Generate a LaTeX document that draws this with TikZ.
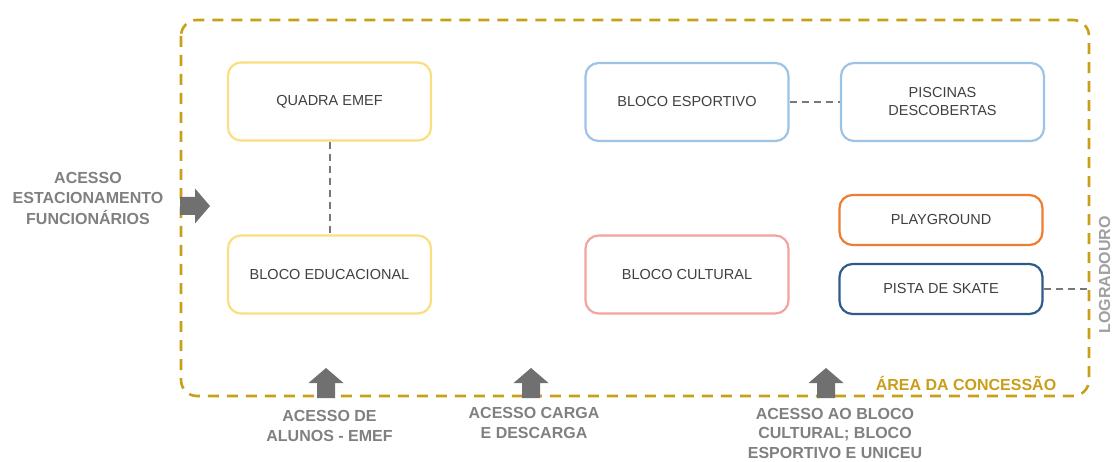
\documentclass[tikz,border=0pt]{standalone}
\usepackage{fontspec}
\setmainfont{Liberation Sans}
\definecolor{gold}{RGB}{201,158,24}
\definecolor{txtgray}{RGB}{64,64,64}
\definecolor{lblgray}{RGB}{128,128,128}
\definecolor{lightgray2}{RGB}{160,160,160}
\definecolor{arrowgray}{RGB}{112,112,112}
\definecolor{linegray}{RGB}{120,120,120}
\definecolor{yellowb}{RGB}{250,222,128}
\definecolor{blueb}{RGB}{157,195,230}
\definecolor{pinkb}{RGB}{244,164,156}
\definecolor{orangeb}{RGB}{237,125,49}
\definecolor{navyb}{RGB}{46,92,138}
\tikzset{
  box/.style={draw, line width=2.2pt, rounded corners=13pt, fill=white,
    minimum width=203pt, minimum height=78pt, inner sep=2pt, align=center,
    text=txtgray, font=\fontsize{14.5}{18}\selectfont},
  smallbox/.style={box, minimum height=50pt},
  border/.style={draw=gold, line width=2.6pt, dash pattern=on 11pt off 8pt, rounded corners=16pt},
  link/.style={draw=linegray, line width=2pt, dash pattern=on 7pt off 5pt},
  lbl/.style={text=lblgray, font=\bfseries\fontsize{16}{20.5}\selectfont, align=center, inner sep=0pt},
  uparrow/.pic={\fill[arrowgray] (-9,0) -- (-9,-15) -- (-17.5,-15) -- (0,-30) -- (17.5,-15) -- (9,-15) -- (9,0) -- cycle;},
  rightarrow/.pic={\fill[arrowgray] (0,-9) -- (15,-9) -- (15,-17.5) -- (30,0) -- (15,17.5) -- (15,9) -- (0,9) -- cycle;}
}
\begin{document}
\begin{tikzpicture}[x=1pt,y=-1pt]
\useasboundingbox (0,0) rectangle (1113,462);
% concession area
\draw[border] (181,20) rectangle (1089,396);
\node[text=gold, font=\bfseries\fontsize{16}{20}\selectfont, anchor=center] (area) at (966,383) {ÁREA DA CONCESSÃO};
% boxes
\node[box, draw=yellowb] (quadra) at (329.5,101.5) {QUADRA EMEF};
\node[box, draw=yellowb] (educ) at (329.5,274.5) {BLOCO EDUCACIONAL};
\node[box, draw=blueb] (esport) at (687,102) {BLOCO ESPORTIVO};
\node[box, draw=blueb] (piscinas) at (942.5,102) {PISCINAS\\DESCOBERTAS};
\node[box, draw=pinkb] (cultural) at (687,274.5) {BLOCO CULTURAL};
\node[smallbox, draw=orangeb] (play) at (941,220) {PLAYGROUND};
\node[smallbox, draw=navyb] (skate) at (941,289) {PISTA DE SKATE};
\coordinate (logr) at (1089,289);
% connectors
\draw[link] (quadra) -- (educ);
\draw[link] (esport) -- (piscinas);
\draw[link] (skate) -- (logr);
% labels
\node[lbl, rotate=90, text=lightgray2] (logradouro) at (1104.5,275) {LOGRADOURO};
\node[lbl] (estac) at (88,198) {ACESSO\\ESTACIONAMENTO\\FUNCIONÁRIOS};
\node[lbl] (alunos) at (329.5,426) {ACESSO DE\\ALUNOS - EMEF};
\node[lbl] (carga) at (534,423) {ACESSO CARGA\\E DESCARGA};
\node[lbl, font=\bfseries\fontsize{16}{19.5}\selectfont] (acbloco) at (835,433) {ACESSO AO BLOCO\\CULTURAL; BLOCO\\ESPORTIVO E UNICEU};
% block arrows
\pic at (180,206) {rightarrow};
\pic at (326,398) {uparrow};
\pic at (531,398) {uparrow};
\pic at (826,398) {uparrow};
\end{tikzpicture}
\end{document}
